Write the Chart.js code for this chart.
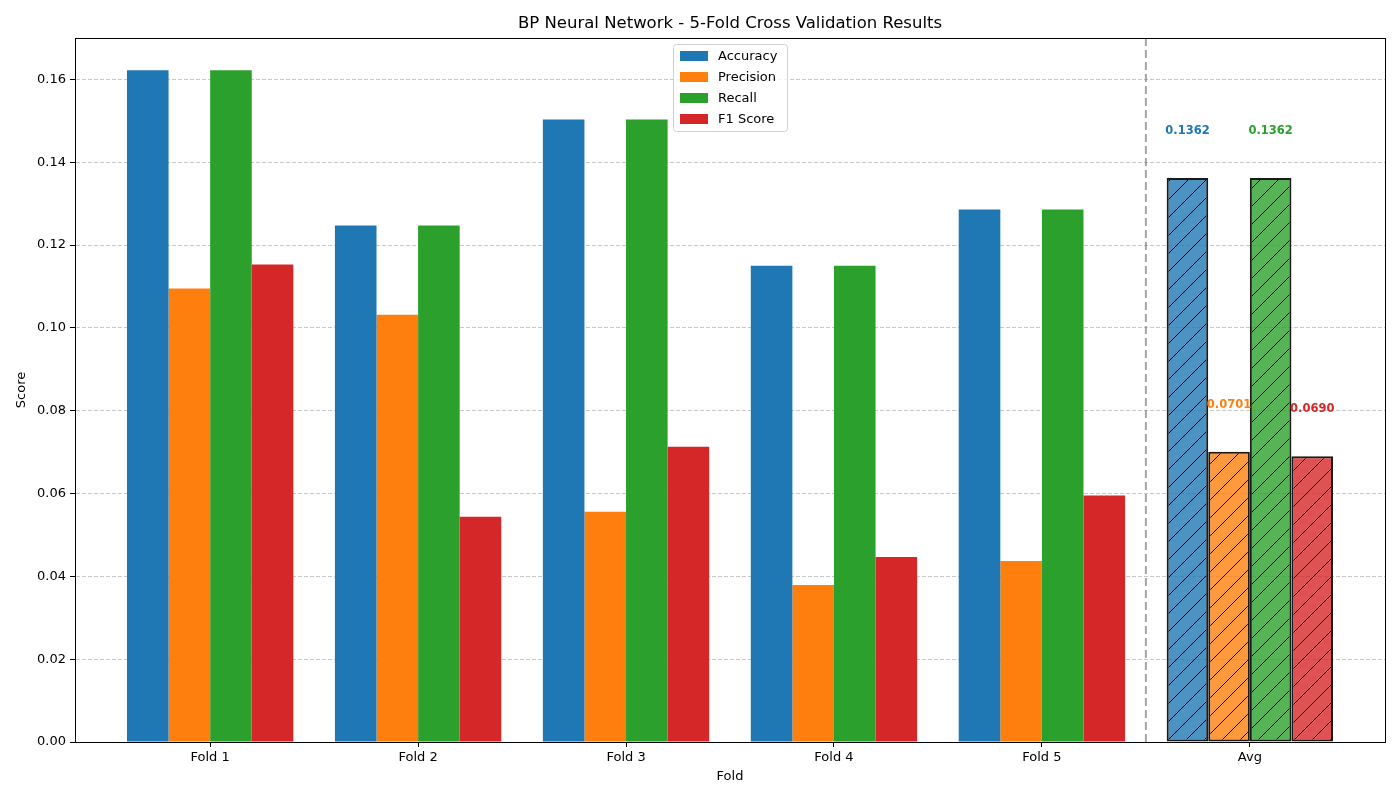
<!DOCTYPE html>
<html>
<head>
<meta charset="utf-8">
<title>BP Neural Network - 5-Fold Cross Validation Results</title>
<script src="https://cdn.jsdelivr.net/npm/chart.js@4.4.1/dist/chart.umd.min.js"></script>
<style>
  body { margin: 0; background: #fff; }
  canvas { display: block; }
</style>
</head>
<body>
<canvas id="myChart" width="1400" height="800"></canvas>
<script>
'use strict';

// data
const folds = ['Fold 1', 'Fold 2', 'Fold 3', 'Fold 4', 'Fold 5', 'Avg'];
const accuracy = [0.1622, 0.1247, 0.1503, 0.1150, 0.1286, 0.1362];
const precision = [0.1095, 0.1032, 0.0556, 0.0379, 0.0437, 0.0701];
const recall = [0.1622, 0.1247, 0.1503, 0.1150, 0.1286, 0.1362];
const f1 = [0.1153, 0.0544, 0.0713, 0.0447, 0.0595, 0.0690];
const yTicks = [0, 0.02, 0.04, 0.06, 0.08, 0.10, 0.12, 0.14, 0.16];

const seriesNames = ['Accuracy', 'Precision', 'Recall', 'F1 Score'];
const seriesColors = ['#1f77b4', '#ff7f0e', '#2ca02c', '#d62728'];
const seriesAlpha = ['rgba(31,119,180,0.8)', 'rgba(255,127,14,0.8)', 'rgba(44,160,44,0.8)', 'rgba(214,39,40,0.8)'];

const FONT = "'DejaVu Sans', sans-serif";
let ctx = document.getElementById('myChart').getContext('2d');

function hatch(fill) {
  let c = document.createElement('canvas');
  c.width = 18;
  c.height = 18;
  let g = c.getContext('2d');
  g.fillStyle = fill;
  g.fillRect(0, 0, 18, 18);
  g.strokeStyle = '#000';
  g.lineWidth = 1;
  g.beginPath();
  g.moveTo(-2, 20); g.lineTo(20, -2);
  g.moveTo(-2, 2); g.lineTo(2, -2);
  g.moveTo(16, 20); g.lineTo(20, 16);
  g.stroke();
  return ctx.createPattern(c, 'repeat');
}

function points(values) {
  let out = [];
  for (let i = 0; i < values.length; i++) {
    out.push({ x: i, y: values[i] });
  }
  return out;
}

let allValues = [accuracy, precision, recall, f1];
let datasets = [];
for (let s = 0; s < allValues.length; s++) {
  let bg = [];
  let bw = [];
  for (let i = 0; i < folds.length; i++) {
    let isAvg = folds[i] === 'Avg';
    bg.push(isAvg ? hatch(seriesAlpha[s]) : seriesColors[s]);
    bw.push(isAvg ? 2 : 0);
  }
  datasets.push({
    label: seriesNames[s],
    data: points(allValues[s]),
    backgroundColor: bg,
    borderColor: '#1a1a1a',
    borderWidth: bw,
    borderSkipped: false,
    categoryPercentage: 0.8,
    barPercentage: 1.0
  });
}

// frame, divider, labels on avg bars, legend, titles
let extras = {
  id: 'extras',
  afterDatasetsDraw(chart) {
    let c = chart.ctx;
    let a = chart.chartArea;
    let xs = chart.scales.x;
    let ys = chart.scales.y;

    // divider between folds and average
    let dx = xs.getPixelForValue(folds.length - 1.5);
    c.save();
    c.strokeStyle = 'rgba(128,128,128,0.7)';
    c.lineWidth = 2;
    c.setLineDash([8, 4]);
    c.beginPath();
    c.moveTo(dx, a.top);
    c.lineTo(dx, a.bottom);
    c.stroke();
    c.restore();

    // value labels above avg bars
    let last = folds.length - 1;
    c.save();
    c.font = 'bold 11.5px ' + FONT;
    c.textAlign = 'center';
    c.textBaseline = 'bottom';
    for (let s = 0; s < allValues.length; s++) {
      let bar = chart.getDatasetMeta(s).data[last];
      let v = allValues[s][last];
      c.fillStyle = seriesColors[s];
      c.fillText(v.toFixed(4), bar.x, ys.getPixelForValue(v + 0.01));
    }
    c.restore();

    // spines
    c.save();
    c.strokeStyle = '#000';
    c.lineWidth = 1;
    c.strokeRect(Math.round(a.left) + 0.5, Math.round(a.top) + 0.5, Math.round(a.width), Math.round(a.height));
    c.restore();

    // legend
    c.save();
    let lx = 673, ly = 44, lw = 114, lh = 87;
    c.fillStyle = 'rgba(255,255,255,0.8)';
    c.strokeStyle = 'rgba(204,204,204,0.9)';
    c.lineWidth = 1;
    c.beginPath();
    c.roundRect(lx + 0.5, ly + 0.5, lw, lh, 3);
    c.fill();
    c.stroke();
    c.font = '13px ' + FONT;
    c.textBaseline = 'middle';
    c.textAlign = 'left';
    for (let s = 0; s < seriesNames.length; s++) {
      let ry = ly + 12 + s * 21;
      c.fillStyle = seriesColors[s];
      c.fillRect(lx + 7, ry - 5, 28, 10);
      c.fillStyle = '#000';
      c.fillText(seriesNames[s], lx + 45, ry + 1);
    }
    c.restore();

    // titles
    c.save();
    c.fillStyle = '#000';
    c.textAlign = 'center';
    c.textBaseline = 'middle';
    c.font = '16.5px ' + FONT;
    c.fillText('BP Neural Network - 5-Fold Cross Validation Results', (a.left + a.right) / 2, 23.5);
    c.font = '13px ' + FONT;
    c.fillText('Fold', (a.left + a.right) / 2, 777);
    c.translate(22, (a.top + a.bottom) / 2);
    c.rotate(-Math.PI / 2);
    c.fillText('Score', 0, 0);
    c.restore();
  }
};

var myChart = new Chart(ctx, {
  type: 'bar',
  data: { datasets: datasets },
  options: {
    responsive: false,
    animation: false,
    devicePixelRatio: 1,
    layout: { padding: { top: 38, right: 15, left: 0, bottom: 0 } },
    plugins: {
      legend: { display: false },
      title: { display: false },
      tooltip: { enabled: false }
    },
    scales: {
      x: {
        type: 'linear',
        min: -0.65,
        max: folds.length - 0.35,
        offset: false,
        afterFit(s) { s.height = 58; },
        afterBuildTicks(s) {
          s.ticks = folds.map((f, i) => ({ value: i }));
        },
        ticks: {
          callback: (v) => folds[v] || '',
          color: '#000',
          font: { family: FONT, size: 13 },
          padding: 3,
          maxRotation: 0,
          autoSkip: false
        },
        grid: { offset: false, drawOnChartArea: false, drawTicks: true, tickLength: 5, tickColor: '#000', color: '#000' },
        border: { color: '#000', width: 1 }
      },
      y: {
        min: 0,
        max: 0.17,
        afterFit(s) { s.width = 75; },
        afterBuildTicks(s) {
          s.ticks = yTicks.map((v) => ({ value: v }));
        },
        ticks: {
          callback: (v) => v.toFixed(2),
          color: '#000',
          font: { family: FONT, size: 13 },
          padding: 4
        },
        grid: {
          color: 'rgba(176,176,176,0.7)',
          lineWidth: 1,
          tickLength: 5,
          tickColor: '#000',
          tickBorderDash: []
        },
        border: { color: '#000', width: 1, dash: [4, 2] }
      }
    }
  },
  plugins: [extras]
});
</script>
</body>
</html>
